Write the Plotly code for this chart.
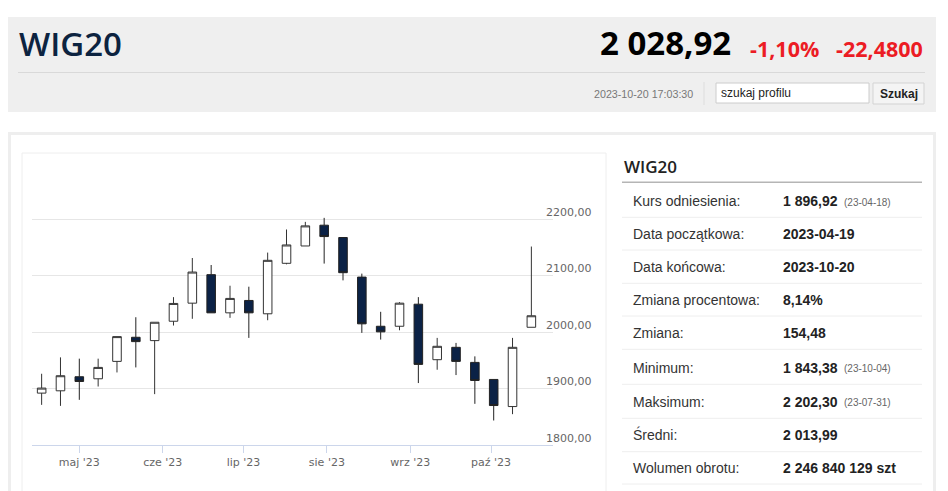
import plotly.graph_objects as go

W, H = 948, 491

# ---------------- data ----------------
week_starts = ["2023-04-17", "2023-04-24", "2023-05-01", "2023-05-08", "2023-05-15",
               "2023-05-22", "2023-05-29", "2023-06-05", "2023-06-12", "2023-06-19",
               "2023-06-26", "2023-07-03", "2023-07-10", "2023-07-17", "2023-07-24",
               "2023-07-31", "2023-08-07", "2023-08-14", "2023-08-21", "2023-08-28",
               "2023-09-04", "2023-09-11", "2023-09-18", "2023-09-25", "2023-10-02",
               "2023-10-09", "2023-10-16"]
opens = [1891.9, 1896.0, 1920.9, 1917.3, 1948.1, 1990.8, 1984.9, 2019.2, 2051.2, 2101.7,
         2034.1, 2056.0, 2032.4, 2121.8, 2152.5, 2189.3, 2167.5, 2097.4, 2010.3, 2010.3,
         2049.4, 1951.1, 1973.0, 1946.3, 1916.1, 1868.1, 2008.5]
highs = [1926.2, 1955.2, 1952.9, 1952.9, 1992.0, 2026.3, 2017.4, 2061.9, 2131.2, 2118.8,
         2082.1, 2080.4, 2140.8, 2181.7, 2195.2, 2202.3, 2167.5, 2103.5, 2035.9, 2053.0,
         2061.9, 1989.7, 1980.8, 1957.0, 1916.1, 1989.7, 2151.5]
lows = [1871.1, 1869.3, 1880.0, 1903.6, 1928.5, 1937.4, 1890.1, 2011.6, 2023.5, 2034.1,
        2025.2, 1989.7, 2021.0, 2120.0, 2152.5, 2121.3, 2091.6, 1998.6, 1986.7, 2003.2,
        1909.7, 1933.3, 1923.9, 1872.9, 1843.4, 1854.6, 2008.5]
closes = [1900.8, 1922.7, 1912.5, 1937.4, 1992.0, 1983.1, 2017.4, 2050.7, 2106.3, 2034.1,
          2059.6, 2034.1, 2127.1, 2154.3, 2188.1, 2169.2, 2105.2, 2014.6, 2000.4, 2051.2,
          1942.8, 1974.8, 1948.1, 1914.3, 1869.9, 1973.0, 2028.9]

month_ticks = ["2023-05-01", "2023-06-01", "2023-07-01", "2023-08-01", "2023-09-01", "2023-10-01"]
month_labels = ["maj '23", "cze '23", "lip '23", "sie '23", "wrz '23", "paź '23"]
y_ticks = [1800, 1900, 2000, 2100, 2200, 2300]
y_labels = ["1800,00", "1900,00", "2000,00", "2100,00", "2200,00", ""]

table_labels = ["Kurs odniesienia:", "Data początkowa:", "Data końcowa:", "Zmiana procentowa:",
                "Zmiana:", "Minimum:", "Maksimum:", "Średni:", "Wolumen obrotu:"]
table_values = ["1 896,92", "2023-04-19", "2023-10-20", "8,14%", "154,48",
                "1 843,38", "2 202,30", "2 013,99", "2 246 840 129 szt"]
table_notes = ["(23-04-18)", "", "", "", "", "(23-10-04)", "(23-07-31)", "", ""]

# ---------------- helpers (page pixels -> paper fractions) ----------------
def X(px):
    return px / W

def Y(py):
    return 1 - py / H

shapes = []
annotations = []

def rect(x0, y0, x1, y1, fill=None, line=None, lw=1, layer="below"):
    shapes.append(dict(type="rect", xref="paper", yref="paper",
                       x0=X(x0), x1=X(x1), y0=Y(y0), y1=Y(y1),
                       fillcolor=fill if fill else "rgba(0,0,0,0)",
                       line=dict(color=line if line else "rgba(0,0,0,0)", width=lw if line else 0),
                       layer=layer))

def hline(x0, x1, y, color, lw=1, layer="below"):
    shapes.append(dict(type="line", xref="paper", yref="paper",
                       x0=X(x0), x1=X(x1), y0=Y(y), y1=Y(y),
                       line=dict(color=color, width=lw), layer=layer))

def vline(x, y0, y1, color, lw=1, layer="below"):
    shapes.append(dict(type="line", xref="paper", yref="paper",
                       x0=X(x), x1=X(x), y0=Y(y0), y1=Y(y1),
                       line=dict(color=color, width=lw), layer=layer))

def text(x, y, s, size, color, family="Liberation Sans, Arial", anchor="left", weight="normal"):
    annotations.append(dict(xref="paper", yref="paper", x=X(x), y=Y(y), text=s,
                            showarrow=False, xanchor=anchor, yanchor="middle",
                            font=dict(size=size, color=color, family=family, weight=weight)))

# ---------------- page decoration ----------------
# header
rect(8, 17, 936, 112, fill="#efefef")
hline(18, 925, 72.5, "#d9d9d9")
vline(704, 82, 105, "#dddddd")
rect(716, 83, 869, 103, fill="#ffffff", line="#cccccc")
rect(873, 83, 924, 104, fill="#f4f4f4", line="#d3d3d3")

text(17, 44, "WIG20", 33, "#0c2340", family="Open Sans", weight=600)
text(733, 43, "2 028,92", 33, "#000000", family="Open Sans", anchor="right", weight=700)
text(748, 48, "-1,10%", 21.5, "#ec1c24", family="Open Sans", weight=700)
text(925, 48, "-22,4800", 21.5, "#ec1c24", family="Open Sans", anchor="right", weight=700)
text(695, 94, "2023-10-20 17:03:30", 10.7, "#777777", anchor="right")
text(719, 93, "szukaj profilu", 12, "#222222")
text(898.5, 94, "Szukaj", 12, "#222222", anchor="center", weight=700)

# main panel
rect(9.5, 133.5, 934.5, 495, fill="#ffffff", line="#eeeeee", lw=3)
rect(22, 153, 606, 495, line="#eeeeee", lw=1)

# table
text(622, 166, "WIG20", 17, "#222222", family="Open Sans", weight=600)
hline(622, 922, 182.3, "#b5b5b5", lw=1.5)
sep_rows = [217.3, 250, 283.3, 316, 349.3, 384.3, 418.3, 451.7, 484]
for y in sep_rows:
    hline(622, 922, y, "#eeeeee")
row_y = [201, 233.5, 266.8, 300, 332.8, 367.8, 401.8, 434.8, 468.2]
for ry, lab, val, note in zip(row_y, table_labels, table_values, table_notes):
    text(631, ry, lab, 14, "#333333")
    text(781, ry, val, 14, "#222222", weight=700)
    if note:
        text(842, ry + 1, note, 10, "#666666")

# ---------------- chart ----------------
fig = go.Figure(go.Candlestick(
    x=week_starts, open=opens, high=highs, low=lows, close=closes,
    increasing=dict(fillcolor="#ffffff", line=dict(color="#333333", width=1)),
    decreasing=dict(fillcolor="#0b2246", line=dict(color="#222222", width=1)),
    whiskerwidth=0, hoverinfo="skip", showlegend=False,
))

fig.update_layout(
    width=W, height=H,
    margin=dict(l=0, r=0, t=0, b=0),
    paper_bgcolor="#ffffff",
    plot_bgcolor="rgba(0,0,0,0)",
    boxgap=0.35,
    shapes=shapes,
    annotations=annotations,
    font=dict(family="DejaVu Sans", size=11, color="#666666"),
    xaxis=dict(
        type="date",
        domain=[X(32), X(553)],
        range=["2023-04-13 10:00", "2023-10-24 01:00"],
        tickvals=month_ticks, ticktext=month_labels,
        ticks="outside", ticklen=7, tickcolor="#ccd6eb", tickwidth=1,
        showline=True, linecolor="#ccd6eb", linewidth=1,
        showgrid=False, zeroline=False,
        rangeslider=dict(visible=False),
        tickfont=dict(family="DejaVu Sans", size=11, color="#666666"),
        fixedrange=True,
    ),
    yaxis=dict(
        domain=[Y(445), Y(162.7)],
        range=[1800, 2300],
        side="right",
        tickvals=y_ticks, ticktext=y_labels,
        ticks="", showline=False, zeroline=False,
        showgrid=True, gridcolor="#e6e6e6", gridwidth=1,
        ticklabelshift=-7, ticklabelstandoff=-8,
        tickfont=dict(family="DejaVu Sans", size=11, color="#666666"),
        fixedrange=True,
    ),
)

fig.write_html(
    "out.html",
    config={"displayModeBar": False},
    post_script="document.body.style.margin='0px';document.documentElement.style.overflow='hidden';",
)
